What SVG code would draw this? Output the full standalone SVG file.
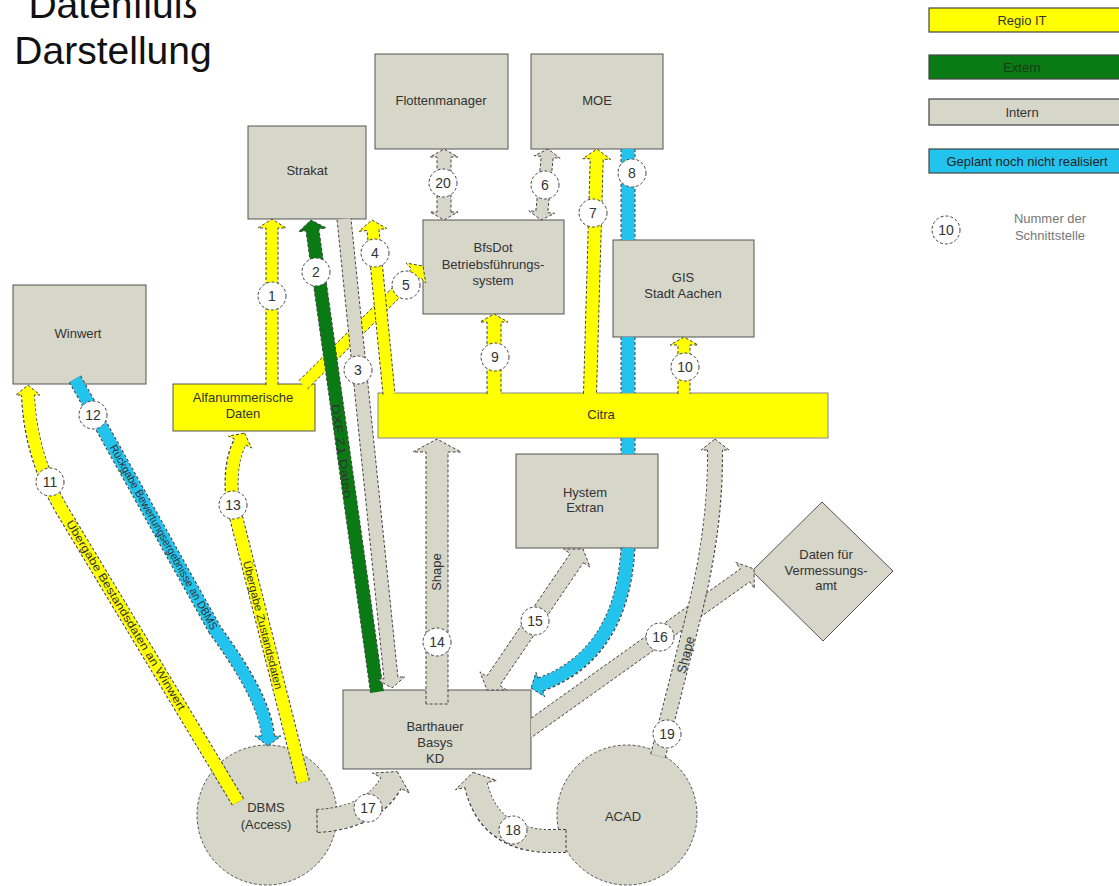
<svg xmlns="http://www.w3.org/2000/svg" width="1119" height="886" viewBox="0 0 1119 886">
<style>
.n{fill:#d6d6c9;stroke:#555;stroke-width:1}
.nd{fill:#d6d6c9;stroke:#555;stroke-width:1;stroke-dasharray:3 2}
.t{font-family:"Liberation Sans",Arial,sans-serif;font-size:13px;fill:#333;text-anchor:middle}
.tt{font-family:"Liberation Sans",Arial,sans-serif;font-size:39px;fill:#111;text-anchor:middle}
.al{font-family:"Liberation Sans",Arial,sans-serif;font-size:11px;fill:#333;text-anchor:middle}
.a{stroke:#444;stroke-width:1;stroke-dasharray:3 2}
.y{fill:#ffff00}.g{fill:#0a7a14}.i{fill:#d6d6c9}.b{fill:#22c4ee}
.co{fill:none;stroke:#444;stroke-dasharray:3 2}
.sy{fill:none;stroke:#ffff00}.si{fill:none;stroke:#d6d6c9}.sb{fill:none;stroke:#22c4ee}
.nc{fill:#fff;stroke:#444;stroke-width:1;stroke-dasharray:3 2}
.nt{font-family:"Liberation Sans",Arial,sans-serif;font-size:14px;fill:#333;text-anchor:middle}
.lg{stroke:#444;stroke-width:1.2}
</style>

<g id="title">
<text class="tt" x="113" y="18">Datenfluß</text>
<text class="tt" x="113" y="64">Darstellung</text>
</g>

<g id="legend">
<rect class="lg y" x="929" y="8" width="195" height="24"/>
<text class="t" x="1022" y="24.5">Regio IT</text>
<rect class="lg g" x="929" y="55" width="195" height="24"/>
<text class="t" x="1022" y="71.5" style="fill:#1a3a1a">Extern</text>
<rect class="lg i" x="929" y="99" width="195" height="26"/>
<text class="t" x="1022" y="116.5">Intern</text>
<rect class="lg b" x="929" y="149" width="195" height="24"/>
<text class="t" x="1027" y="165.5" style="fill:#222">Geplant noch nicht realisiert</text>
<circle class="nc" cx="946" cy="230" r="14"/>
<text class="nt" x="946" y="235">10</text>
<text class="t" x="1050" y="223" style="fill:#777">Nummer der</text>
<text class="t" x="1050" y="240" style="fill:#777">Schnittstelle</text>
</g>

<g id="flottenmanager"><rect class="n" x="375" y="54" width="133" height="95"/><text class="t" x="441" y="105">Flottenmanager</text></g>
<g id="moe"><rect class="n" x="531" y="54" width="132" height="95"/><text class="t" x="597" y="105">MOE</text></g>
<g id="strakat"><rect class="n" x="248" y="126" width="118" height="93"/><text class="t" x="307" y="175">Strakat</text></g>
<g id="bfsdot"><rect class="n" x="423" y="220" width="141" height="94"/><text class="t" x="493" y="252">BfsDot</text><text class="t" x="493" y="269">Betriebsführungs-</text><text class="t" x="493" y="285">system</text></g>
<g id="gis"><rect class="n" x="613" y="240" width="141" height="97"/><text class="t" x="683" y="282">GIS</text><text class="t" x="683" y="298">Stadt Aachen</text></g>
<g id="winwert"><rect class="n" x="13" y="285" width="133" height="99"/><text class="t" x="78" y="338">Winwert</text></g>
<g id="alfanum"><rect class="n y" x="173" y="384" width="142" height="47"/><text class="t" x="243" y="402">Alfanummerische</text><text class="t" x="243" y="418">Daten</text></g>
<g id="citra"><rect x="378" y="393" width="450" height="45" style="fill:#ffff00;stroke:#888;stroke-width:1"/><text class="t" x="601" y="419">Citra</text></g>
<g id="hystem"><rect class="n" x="516" y="454" width="142" height="94"/><text class="t" x="585" y="497">Hystem</text><text class="t" x="585" y="512">Extran</text></g>
<g id="vermessungsamt"><polygon class="n" points="822,502 893,571 823,641 752,571"/><text class="t" x="826" y="559">Daten für</text><text class="t" x="826" y="575">Vermessungs-</text><text class="t" x="826" y="590">amt</text></g>
<g id="barthauer"><rect class="n" x="343" y="690" width="188" height="79"/><text class="t" x="435" y="731">Barthauer</text><text class="t" x="435" y="747">Basys</text><text class="t" x="435" y="763">KD</text></g>
<g id="dbms"><circle class="nd" cx="267" cy="815" r="70"/><text class="t" x="266" y="812">DBMS</text><text class="t" x="266" y="829">(Access)</text></g>
<g id="acad"><circle class="nd" cx="627" cy="815" r="70"/><text class="t" x="623" y="821">ACAD</text></g>

<g id="connectors">
<!-- 5 -->
<path class="a y" d="M298.78 380.74 L411.68 268.78 L406.04 263.1 L423 266 L425.76 282.98 L420.12 277.3 L307.22 389.26"/>
<!-- 1 -->
<path class="a y" d="M266 385 L266 228 L258 228 L272 219 L286 228 L278 228 L278 385"/>
<!-- 2 -->
<path class="a g" d="M370.56 692.9 L305.95 230.8 L298.52 231.84 L311 220 L326.26 227.96 L318.83 229 L383.44 691.1"/>
<!-- 3 -->
<path class="a i" d="M337.04 219.71 L384.02 678.76 L377.05 679.48 L392 688 L404.91 676.62 L397.94 677.34 L350.96 218.29"/>
<!-- 4 -->
<path class="a y" d="M383.03 394.58 L367 230.53 L359.04 231.3 L372 220 L386.9 228.6 L378.94 229.37 L394.97 393.42"/>
<!-- 20 -->
<path class="a i" d="M451 212 L458 212 L444 220 L430 212 L437 212 L437 157 L430 157 L444 149 L458 157 L451 157 Z"/>
<!-- 6 -->
<path class="a i" d="M547.75 212.63 L554.72 213.32 L541 220 L528.84 210.76 L535.81 211.45 L541.25 156.37 L534.28 155.68 L548 149 L560.16 158.24 L553.19 157.55 Z"/>
<!-- 7 -->
<path class="a y" d="M583.5 393.8 L590.22 158.82 L582.73 158.6 L597 149 L610.71 159.4 L603.22 159.18 L596.5 394.2"/>
<!-- 8 -->
<path class="co" stroke-width="15" d="M628 149 L628 240 M628 337 L628 393 M628 438 L628 454 M628 548 Q622 655 540.4 684.6"/>
<path class="a b" d="M531 688 L544.8 696.8 L536 672.4 Z"/>
<path class="sb" stroke-width="13" d="M628 149 L628 240 M628 337 L628 393 M628 438 L628 454 M628 548 Q622 655 539 685.1"/>
<!-- 9 -->
<path class="a y" d="M487 394 L487 322 L480 322 L494 314 L508 322 L501 322 L501 394"/>
<!-- 10 -->
<path class="a y" d="M678 394 L678 345 L670 345 L684 337 L698 345 L690 345 L690 394"/>
<!-- 11 -->
<path class="co" stroke-width="14" d="M238 802 L62 510 Q30 455 28 395"/>
<path class="a y" d="M28 385 L40 395 L16 395 Z"/>
<path class="sy" stroke-width="12" d="M238 802 L62 510 Q30 455 28 393.5"/>
<!-- 12 -->
<path class="co" stroke-width="14" d="M75 379 L215 630 Q265 698 268 736"/>
<path class="a b" d="M268 746 L255 736 L281 736 Z"/>
<path class="sb" stroke-width="12" d="M75 379 L215 630 Q265 698 268 737.5"/>
<!-- 13 -->
<path class="co" stroke-width="14" d="M303 782 L233 505 Q228 465 240 442"/>
<path class="a y" d="M244.6 433.1 L251.5 448 L228.5 436 Z"/>
<path class="sy" stroke-width="12" d="M303 782 L233 505 Q228 465 240.7 440.7"/>
<!-- 14 -->
<path class="a i" d="M426 704 L426 452 L413 452 L437 439 L461 452 L448 452 L448 704 Z"/>
<!-- 15 -->
<path class="a i" d="M583.42 562.59 L590.04 567.09 L583 549 L563.58 549.09 L570.2 553.59 L486.58 676.41 L479.96 671.91 L487 690 L506.42 689.91 L499.8 685.41 Z"/>
<!-- 16 -->
<path class="a i" d="M531 718.18 L740.4 568.88 L735.75 562.36 L754 569 L754.33 588.42 L749.68 581.9 L531 737.82"/>
<!-- 19 -->
<path class="co" stroke-width="16" d="M658 756 L695 610 Q716 525 715 450"/>
<path class="a i" d="M715 439 L729 450 L701 450 Z"/>
<path class="si" stroke-width="14" d="M658 756 L695 610 Q716 525 715 448.5"/>
<!-- 17 -->
<path class="co" stroke-width="24" d="M317 821 Q372 818 391 783"/>
<path class="a i" d="M397.2 771.6 L409.5 793 L372.5 773 Z"/>
<path class="si" stroke-width="22" d="M317 821 Q372 818 391.7 781.7"/>
<path class="co" stroke-width="1" d="M317 810 V832"/>
<!-- 18 -->
<path class="co" stroke-width="24" d="M566 841 L545 841 Q488 838 476 785"/>
<path class="a i" d="M473.1 772.3 L496.5 780.4 L455.5 789.6 Z"/>
<path class="si" stroke-width="22" d="M566 841 L545 841 Q488 838 475.7 783.5"/>
<path class="co" stroke-width="1" d="M566 830 V852"/>

<!-- arrow labels -->
<text class="al" transform="translate(342 451) rotate(82)" y="4" textLength="95" lengthAdjust="spacingAndGlyphs">DXF Z1 Daten</text>
<text class="al" transform="translate(126 615) rotate(58.9)" y="4" textLength="220" lengthAdjust="spacingAndGlyphs">Übergabe Bestandsdaten an Winwert</text>
<text class="al" transform="translate(164 537) rotate(60.9)" y="4" textLength="210" lengthAdjust="spacingAndGlyphs">Rückgabe Bewertungsergebnisse an DBMS</text>
<text class="al" transform="translate(263 625) rotate(75.8)" y="4" textLength="132" lengthAdjust="spacingAndGlyphs">Übergabe Zustandsdaten</text>
<text class="t" transform="translate(437 572) rotate(-90)" y="4">Shape</text>
<text class="t" transform="translate(686 655) rotate(-75.7)" y="4">Shape</text>

<!-- numbers -->
<circle class="nc" cx="272" cy="296" r="14"/><text class="nt" x="272" y="301">1</text>
<circle class="nc" cx="316" cy="272" r="14"/><text class="nt" x="316" y="277">2</text>
<circle class="nc" cx="358" cy="370" r="14"/><text class="nt" x="358" y="375">3</text>
<circle class="nc" cx="375" cy="253" r="14"/><text class="nt" x="375" y="258">4</text>
<circle class="nc" cx="406" cy="285" r="14"/><text class="nt" x="406" y="290">5</text>
<circle class="nc" cx="545" cy="185" r="14"/><text class="nt" x="545" y="190">6</text>
<circle class="nc" cx="593" cy="213" r="14"/><text class="nt" x="593" y="218">7</text>
<circle class="nc" cx="632" cy="173" r="14"/><text class="nt" x="632" y="178">8</text>
<circle class="nc" cx="495" cy="357" r="14"/><text class="nt" x="495" y="362">9</text>
<circle class="nc" cx="685" cy="367" r="14"/><text class="nt" x="685" y="372">10</text>
<circle class="nc" cx="50" cy="482" r="14"/><text class="nt" x="50" y="487">11</text>
<circle class="nc" cx="93" cy="415" r="14"/><text class="nt" x="93" y="420">12</text>
<circle class="nc" cx="233" cy="505" r="14"/><text class="nt" x="233" y="510">13</text>
<circle class="nc" cx="437" cy="642" r="14"/><text class="nt" x="437" y="647">14</text>
<circle class="nc" cx="535" cy="621" r="14"/><text class="nt" x="535" y="626">15</text>
<circle class="nc" cx="660" cy="637" r="14"/><text class="nt" x="660" y="642">16</text>
<circle class="nc" cx="368" cy="808" r="14"/><text class="nt" x="368" y="813">17</text>
<circle class="nc" cx="513" cy="830" r="14"/><text class="nt" x="513" y="835">18</text>
<circle class="nc" cx="667" cy="734" r="14"/><text class="nt" x="667" y="739">19</text>
<circle class="nc" cx="443" cy="183" r="14"/><text class="nt" x="443" y="188">20</text>
</g>
</svg>
